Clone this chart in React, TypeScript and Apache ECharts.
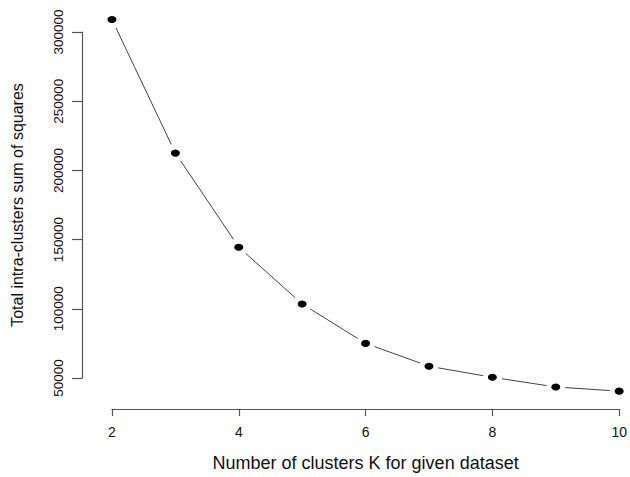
import React, { useEffect, useRef } from "react";
import * as echarts from "echarts";

const clusterCounts = [2, 3, 4, 5, 6, 7, 8, 9, 10];
const withinSS = [309000, 212500, 144500, 103500, 75000, 58500, 50500, 43500, 40500];
const xTicks = { min: 2, max: 10, interval: 2 };
const yTicks = { min: 50000, max: 300000, interval: 50000 };
const xTitle = "Number of clusters K for given dataset";
const yTitle = "Total intra-clusters sum of squares";

export default function App() {
  const ref = useRef<HTMLDivElement>(null);
  useEffect(() => {
    if (!ref.current) return;
    const chart = echarts.init(ref.current, null, { renderer: "svg" });
    const pts = clusterCounts.map((k, i) => [k, withinSS[i]]);
    const font = "'Liberation Sans', Arial, sans-serif";
    chart.setOption({
      animation: false,
      backgroundColor: "#ffffff",
      grid: { left: 112, right: 10, top: 32, bottom: 96 },
      xAxis: {
        type: "value",
        min: xTicks.min,
        max: xTicks.max,
        interval: xTicks.interval,
        offset: 31,
        name: xTitle,
        nameLocation: "middle",
        nameGap: 45,
        nameTextStyle: { fontFamily: font, fontSize: 18, color: "#111" },
        axisLine: { show: true, lineStyle: { color: "#555", width: 1.2 } },
        axisTick: { show: true, length: 7, lineStyle: { color: "#555", width: 1.2 } },
        axisLabel: { fontFamily: font, fontSize: 14, color: "#111", margin: 16 },
        splitLine: { show: false },
      },
      yAxis: {
        type: "value",
        min: yTicks.min,
        max: yTicks.max,
        interval: yTicks.interval,
        offset: 30,
        name: yTitle,
        nameLocation: "middle",
        nameGap: 57,
        nameRotate: 90,
        nameTextStyle: { fontFamily: font, fontSize: 16, color: "#111" },
        axisLine: { show: true, lineStyle: { color: "#555", width: 1.2 } },
        axisTick: { show: true, length: 10, lineStyle: { color: "#555", width: 1.2 } },
        axisLabel: {
          fontFamily: font,
          fontSize: 13.5,
          color: "#111",
          rotate: 90,
          margin: 17,
          formatter: (v: number) => String(v),
        },
        splitLine: { show: false },
      },
      series: [
        {
          type: "line",
          data: pts,
          clip: false,
          smooth: false,
          showSymbol: false,
          lineStyle: { color: "#444", width: 1 },
          z: 1,
        },
        {
          type: "scatter",
          data: pts,
          clip: false,
          symbol: "circle",
          symbolSize: 19,
          itemStyle: { color: "#ffffff", opacity: 1 },
          emphasis: { disabled: true },
          silent: true,
          z: 5,
        },
        {
          type: "scatter",
          data: pts,
          clip: false,
          symbol: "circle",
          symbolSize: [9, 7],
          itemStyle: { color: "#000000", opacity: 1 },
          emphasis: { disabled: true },
          silent: true,
          z: 6,
        },
      ],
    });
    return () => chart.dispose();
  }, []);
  return <div ref={ref} style={{ width: 630, height: 477, position: "absolute", left: 0, top: 0 }} />;
}
